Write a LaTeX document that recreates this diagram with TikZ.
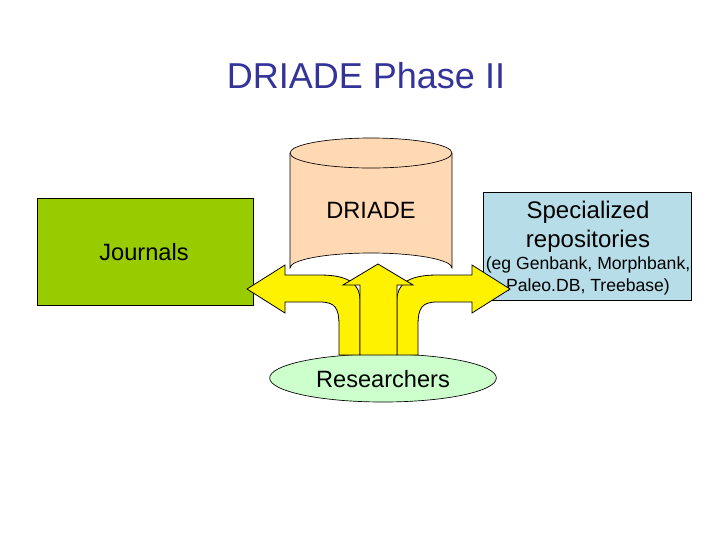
\documentclass[tikz,border=0pt]{standalone}
\usepackage{fontspec}
\setmainfont{Liberation Sans}
\usetikzlibrary{shapes.geometric}
\definecolor{titleblue}{HTML}{333399}
\definecolor{peach}{HTML}{FFD9B3}
\definecolor{jgreen}{HTML}{99CC00}
\definecolor{lblue}{HTML}{B7DDE8}
\definecolor{lgreen}{HTML}{CCFFCC}
\tikzset{arrowshape/.style={fill=yellow,draw=black,line width=0.6pt,line join=miter},
 lbl/.style={font=\fontsize{17.7}{21}\selectfont}}
\begin{document}
\begin{tikzpicture}[x=0.75pt,y=-0.75pt]
\useasboundingbox (0,0) rectangle (720,540);
\node[text=titleblue,font=\fontsize{27}{32}\selectfont] (title) at (366,76) {DRIADE Phase II};
% cylinder
\fill[peach,draw=black,line width=0.5pt] (290,153) -- (290,268) arc[start angle=180,end angle=360,x radius=81,y radius=15] -- (452,153);
\draw[fill=peach,line width=0.5pt] (371,153) ellipse[x radius=81,y radius=15];
\node[lbl] (driade) at (371,210) {DRIADE};
% boxes
\node[draw=black,fill=jgreen,minimum width=162pt,minimum height=80pt,inner sep=0pt,anchor=north west,line width=0.5pt] (jbox) at (37,198) {};
\node[lbl] (journals) at (144,252) {Journals};
\node[draw=black,fill=lblue,minimum width=156pt,minimum height=81pt,inner sep=0pt,anchor=north west,line width=0.5pt] (sbox) at (483,192) {};
\node[font=\fontsize{18}{22}\selectfont,align=center] (spec) at (588,227) {Specialized\\repositories};
\node[font=\fontsize{13.2}{16}\selectfont,align=center] (eg) at (588,276) {(eg Genbank, Morphbank,\\Paleo.DB, Treebase)};
% researchers
\node[draw=black,fill=lgreen,ellipse,minimum width=170pt,minimum height=36pt,line width=0.5pt] (res) at (383,378) {};
\node[lbl] (restext) at (383,379) {Researchers};
% arrows
\draw[arrowshape] (339,355) -- (339,325) .. controls (339,308) and (335,302) .. (320,302) -- (285,302) -- (285,313) -- (247,289) -- (285,265) -- (285,275) -- (320,275) .. controls (350,275) and (360,285) .. (360,300) -- (360,355) -- cycle;
\draw[arrowshape] (418,355) -- (418,325) .. controls (418,308) and (422,302) .. (437,302) -- (472,302) -- (472,313) -- (510,289) -- (472,265) -- (472,275) -- (437,275) .. controls (407,275) and (397,285) .. (397,300) -- (397,355) -- cycle;
\draw[arrowshape] (360,355) -- (360,285) -- (343,285) -- (378,264) -- (413,285) -- (397,285) -- (397,355) -- cycle;
\end{tikzpicture}
\end{document}
